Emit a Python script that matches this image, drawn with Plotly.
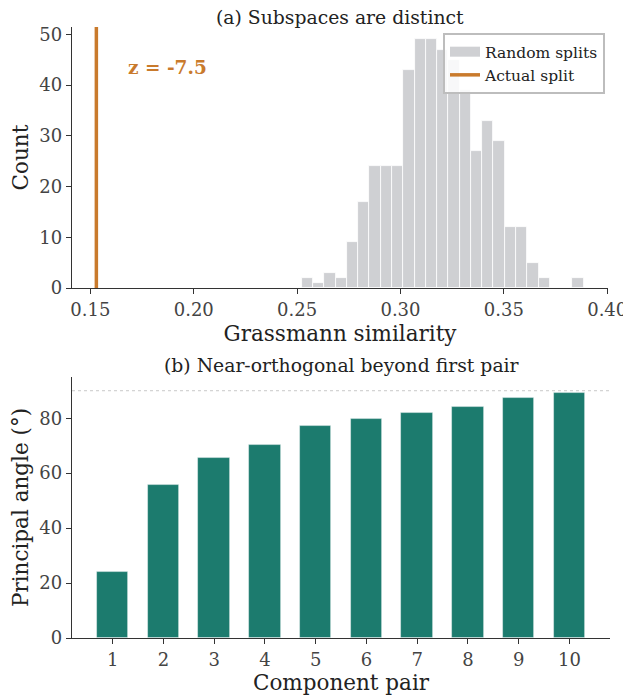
import numpy as np
import plotly.graph_objects as go
from plotly.subplots import make_subplots

# ---------------- data ----------------
# (a) histogram of Grassmann similarity for 500 random splits (25 bins)
hist_counts = [2, 1, 3, 2, 9, 17, 24, 24, 24, 43, 49, 49, 47, 45, 39,
               27, 33, 29, 12, 12, 5, 2, 0, 0, 2]
hist_min = 0.2523
hist_max = 0.3886
actual_split = 0.1529
z_score = -7.5

# (b) principal angles per component pair
pairs = [1, 2, 3, 4, 5, 6, 7, 8, 9, 10]
angles = [24.2, 55.6, 65.6, 70.4, 77.0, 79.6, 81.9, 84.2, 87.5, 89.1]
ref_angle = 90

x_ticks_a = [0.15, 0.20, 0.25, 0.30, 0.35, 0.40]
y_ticks_a = [0, 10, 20, 30, 40, 50]
y_ticks_b = [0, 20, 40, 60, 80]

# ---------------- styles ----------------
FONT = "DejaVu Serif"
GREY_BAR = "#cfd0d3"
ORANGE = "#c97a2c"
TEAL = "#1c7b6e"
TXT = "#333333"

edges = np.linspace(hist_min, hist_max, len(hist_counts) + 1)
centers = (edges[:-1] + edges[1:]) / 2
widths = np.diff(edges)

fig = make_subplots(rows=2, cols=1)

fig.add_trace(go.Bar(x=centers, y=hist_counts, width=widths, name="Random splits",
                     marker=dict(color=GREY_BAR, line=dict(color="white", width=0.8)),
                     showlegend=False), row=1, col=1)
# legend proxy with a wide patch look
fig.add_trace(go.Scatter(x=[None], y=[None], mode="lines", name="Random splits",
                         line=dict(color=GREY_BAR, width=10)), row=1, col=1)
ymax_a = max(hist_counts) * 1.05
fig.add_trace(go.Scatter(x=[actual_split, actual_split], y=[0, ymax_a], mode="lines",
                         name="Actual split", line=dict(color=ORANGE, width=3.5)),
              row=1, col=1)

fig.add_trace(go.Bar(x=pairs, y=angles, width=0.62, showlegend=False,
                     marker=dict(color=TEAL, line=dict(color="rgba(255,255,255,0.5)", width=0.8))),
              row=2, col=1)

xr = hist_max - actual_split
axis_common = dict(showline=True, linecolor=TXT, linewidth=1.3, ticks="outside",
                   ticklen=5, tickwidth=1.2, tickcolor=TXT, showgrid=False, zeroline=False,
                   automargin=False,
                   tickfont=dict(family=FONT, size=18, color="#444444"),
                   title_font=dict(family=FONT, size=21.5, color="#222222"))

fig.update_xaxes(**axis_common)
fig.update_yaxes(**axis_common)

fig.update_xaxes(row=1, col=1, range=[actual_split - 0.05 * xr, hist_max + 0.05 * xr],
                 tickvals=x_ticks_a, ticktext=[f"{v:.2f}" for v in x_ticks_a],
                 domain=[0, 0.9963], title_text="Grassmann similarity", title_standoff=7)
fig.update_yaxes(row=1, col=1, range=[0, ymax_a], tickvals=y_ticks_a,
                 domain=[0.5728, 1.0], title_text="Count", title_standoff=7)

fig.update_xaxes(row=2, col=1, range=[0.2, 10.8], tickvals=pairs,
                 domain=[0, 1.0], title_text="Component pair", title_standoff=4)
fig.update_yaxes(row=2, col=1, range=[0, 95], tickvals=y_ticks_b,
                 domain=[0, 0.4272], title_text="Principal angle (°)", title_standoff=7)

# dotted reference at 90°
fig.add_shape(type="line", xref="x2 domain", yref="y2", x0=0, x1=1, y0=ref_angle, y1=ref_angle,
              line=dict(color="#c8c8c8", width=1, dash="dot"))

# panel titles
fig.add_annotation(text="(a) Subspaces are distinct", xref="x domain", yref="paper",
                   x=0.5, y=1.0, yshift=10, yanchor="middle", showarrow=False,
                   font=dict(family=FONT, size=18.8, color="#222222"))
fig.add_annotation(text="(b) Near-orthogonal beyond first pair", xref="x2 domain", yref="paper",
                   x=0.5, y=0.4272, yshift=11, yanchor="middle", showarrow=False,
                   font=dict(family=FONT, size=18.8, color="#222222"))

# z-score text
fig.add_annotation(text=f"<b>z = {z_score}</b>", xref="x domain", yref="y domain",
                   x=0.1, y=0.843, xanchor="left", yanchor="middle", showarrow=False,
                   font=dict(family=FONT, size=18.5, color=ORANGE))

# page body has an 8px default margin: figure sized to fill the window exactly
fig.update_layout(
    width=623, height=688,
    margin=dict(l=64, r=21, t=19, b=58, autoexpand=False),
    paper_bgcolor="white", plot_bgcolor="white",
    bargap=0,
    font=dict(family=FONT, color=TXT),
    legend=dict(x=0.9907, y=0.990, xanchor="right", yanchor="top",
                bordercolor="#bdbdbd", borderwidth=2, bgcolor="rgba(255,255,255,0.85)",
                font=dict(family=FONT, size=15.5, color="#222222"),
                tracegroupgap=0, itemwidth=30),
)

fig.write_html("out.html")
